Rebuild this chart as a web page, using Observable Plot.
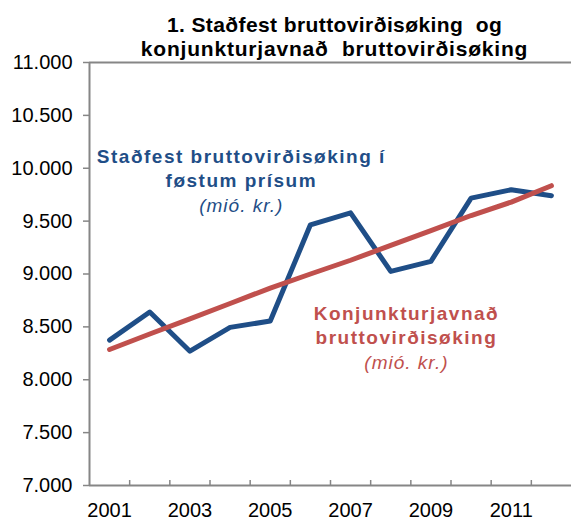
<!DOCTYPE html>
<html><head><meta charset="utf-8">
<script src="https://cdn.jsdelivr.net/npm/d3@7"></script>
<script src="https://cdn.jsdelivr.net/npm/@observablehq/plot@0.6"></script>
<style>
body{margin:0;background:#fff;}
svg text{white-space:pre;}
</style></head><body><div id="chart"></div>
<script>
const years = [2001, 2002, 2003, 2004, 2005, 2006, 2007, 2008, 2009, 2010, 2011, 2012];
const actual = [8375, 8640, 8270, 8495, 8555, 9465, 9578, 9025, 9120, 9717, 9797, 9740];
const trend = [8286, 8433, 8576, 8721, 8867, 9000, 9130, 9270, 9410, 9553, 9680, 9835];
const yTicks = [7000, 7500, 8000, 8500, 9000, 9500, 10000, 10500, 11000];
const xTickLabels = [2001, 2003, 2005, 2007, 2009, 2011];
const titleLines = ["1. Staðfest bruttovirðisøking  og", "konjunkturjavnað  bruttovirðisøking"];
const actualLabel = ["Staðfest bruttovirðisøking í", "føstum prísum"];
const trendLabel = ["Konjunkturjavnað", "bruttovirðisøking"];
const unitLabel = "(mió. kr.)";

const blue = "#1F4E87", red = "#C0504D", grey = "#868686";
const rows = years.map((year, i) => ({year, actual: actual[i], trend: trend[i]}));
const xDomain = [years[0] - 0.5, years[years.length - 1] + 0.5];
const fmt = d => d3.format(",")(d).replace(/,/g, ".");

const chart = Plot.plot({
  width: 571, height: 520,
  marginTop: 62, marginLeft: 89, marginRight: 0, marginBottom: 35,
  style: {fontFamily: "'Liberation Sans', Arial, sans-serif", fontSize: "20px", color: "#000", background: "#fff", overflow: "visible"},
  x: {type: "linear", domain: xDomain},
  y: {domain: [yTicks[0], yTicks[yTicks.length - 1]]},
  marks: [
    Plot.axisY({ticks: yTicks, tickFormat: fmt, tickSize: 6, tickPadding: 11, stroke: grey, strokeWidth: 1.5, fill: "#000", label: null}),
    Plot.axisX({ticks: d3.range(years[0] + 0.5, years[years.length - 1]), tickSize: -5, tickFormat: () => "", stroke: grey, strokeWidth: 1.5, label: null}),
    Plot.axisX({ticks: xTickLabels, tickSize: 0, tickPadding: 17, tickFormat: d => String(d), fill: "#000", label: null}),
    Plot.ruleY([yTicks[0], yTicks[yTicks.length - 1]], {stroke: grey, strokeWidth: 2}),
    Plot.ruleX([xDomain[0]], {stroke: grey, strokeWidth: 2}),
    Plot.line(rows, {x: "year", y: "actual", stroke: blue, strokeWidth: 5, strokeLinejoin: "round"}),
    Plot.line(rows, {x: "year", y: "trend", stroke: red, strokeWidth: 5, strokeLinecap: "round"}),
    Plot.text([titleLines[0]], {frameAnchor: "top", dx: 4, dy: -31, lineAnchor: "bottom", fontSize: 21, fontWeight: "bold", fill: "#000"}),
    Plot.text([titleLines[1]], {frameAnchor: "top", dx: 4, dy: -7, lineAnchor: "bottom", fontSize: 21, fontWeight: "bold", fill: "#000"}),
    Plot.text([actualLabel.join("\n")], {x: 2004.28, y: 9818, lineAnchor: "bottom", fontSize: 19, fontWeight: "bold", lineHeight: 1.3, fill: blue}),
    Plot.text([unitLabel], {x: 2004.28, y: 9582, lineAnchor: "bottom", fontSize: 19, fontStyle: "italic", fill: blue}),
    Plot.text([trendLabel.join("\n")], {x: 2008.39, y: 8340, lineAnchor: "bottom", fontSize: 19, fontWeight: "bold", lineHeight: 1.26, fill: red}),
    Plot.text([unitLabel], {x: 2008.39, y: 8106, lineAnchor: "bottom", fontSize: 19, fontStyle: "italic", fill: red})
  ]
});
const groups = chart.querySelectorAll('g[aria-label="text"]');
const spacing = ["0.4px", "0.8px", "1.5px", "1px", "1.5px", "1px"];
groups.forEach((g, i) => { if (spacing[i]) g.style.letterSpacing = spacing[i]; });
document.getElementById("chart").appendChild(chart);
</script></body></html>
